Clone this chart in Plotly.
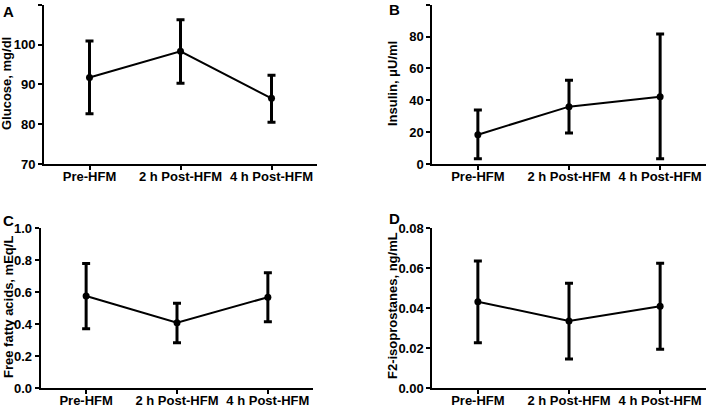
import plotly.graph_objects as go

categories = ["Pre-HFM", "2 h Post-HFM", "4 h Post-HFM"]

glucose_mean = [91.7, 98.3, 86.5]
glucose_upper = [100.9, 106.2, 92.3]
glucose_lower = [82.6, 90.3, 80.5]

insulin_mean = [18.4, 36.0, 42.2]
insulin_upper = [33.9, 52.5, 81.6]
insulin_lower = [3.3, 19.5, 3.3]

ffa_mean = [0.577, 0.41, 0.569]
ffa_upper = [0.78, 0.531, 0.722]
ffa_lower = [0.372, 0.285, 0.416]

f2_mean = [0.0433, 0.0337, 0.041]
f2_upper = [0.0637, 0.0525, 0.0625]
f2_lower = [0.0228, 0.0146, 0.0195]

panels = [
    ("A", "Glucose, mg/dl", glucose_mean, glucose_upper, glucose_lower, [70, 110], 10, "d"),
    ("B", "Insulin, μU/ml", insulin_mean, insulin_upper, insulin_lower, [0, 100], 20, "d"),
    ("C", "Free fatty acids, mEq/L", ffa_mean, ffa_upper, ffa_lower, [0, 1.0], 0.2, ".1f"),
    ("D", "F2-isoprostanes, ng/mL", f2_mean, f2_upper, f2_lower, [0, 0.08], 0.02, ".2f"),
]

W, H = 709, 406
# pixel boxes (left, right, top, bottom)
boxes = [
    (44, 317, 4.7, 164),
    (432.3, 705.7, 4.7, 164),
    (40.7, 313.3, 228.3, 388.3),
    (432.3, 705.7, 228.3, 388.3),
]
title_pos = [(7, 84), (393, 84), (8, 307), (392, 306)]
letter_pos = [(8, 11), (394, 10), (8, 221), (394, 218)]

fig = go.Figure()
annotations = []
for i, (letter, ytitle, mean, up, lo, yr, dt, fmt) in enumerate(panels):
    n = i + 1
    xa = "x" if n == 1 else f"x{n}"
    ya = "y" if n == 1 else f"y{n}"
    fig.add_trace(go.Scatter(
        x=categories, y=mean, mode="lines+markers",
        xaxis=xa, yaxis=ya,
        line=dict(color="black", width=2),
        marker=dict(color="black", size=7),
        error_y=dict(type="data", symmetric=False,
                     array=[u - m for u, m in zip(up, mean)],
                     arrayminus=[m - l for m, l in zip(mean, lo)],
                     color="black", thickness=3, width=4),
        showlegend=False,
    ))
    l, r, t, b = boxes[i]
    xkey = "xaxis" if n == 1 else f"xaxis{n}"
    ykey = "yaxis" if n == 1 else f"yaxis{n}"
    fig.update_layout(**{
        xkey: dict(domain=[l / W, r / W], anchor=ya, type="category",
                   range=[-0.5, 2.5], showline=True, linecolor="black", linewidth=2,
                   ticks="outside", ticklen=4, tickwidth=2, tickcolor="black",
                   ticklabelstandoff=-5,
                   showgrid=False, zeroline=False, automargin=False,
                   categoryorder="array", categoryarray=categories),
        ykey: dict(domain=[1 - b / H, 1 - t / H], anchor=xa, range=yr,
                   dtick=dt, tick0=yr[0], tickformat=fmt,
                   showline=True, linecolor="black", linewidth=2,
                   ticks="outside", ticklen=4, tickwidth=2, tickcolor="black",
                   showgrid=False, zeroline=False, automargin=False),
    })
    tx, ty = title_pos[i]
    annotations.append(dict(text=ytitle, x=tx / W, y=1 - ty / H, xref="paper", yref="paper",
                            textangle=-90, showarrow=False, xanchor="center", yanchor="middle",
                            font=dict(size=13)))
    lx, ly = letter_pos[i]
    annotations.append(dict(text=letter, x=lx / W, y=1 - ly / H, xref="paper", yref="paper",
                            showarrow=False, xanchor="center", yanchor="middle",
                            font=dict(size=15)))

fig.update_layout(
    width=W, height=H, margin=dict(l=0, r=0, t=0, b=0),
    paper_bgcolor="white", plot_bgcolor="white",
    font=dict(family="Liberation Sans, Arial, sans-serif", size=13, color="black", weight="bold"),
    annotations=annotations,
)
fig.write_html("out.html", config={"displayModeBar": False},
               post_script="document.body.style.margin='0px';document.body.style.overflow='hidden';")
